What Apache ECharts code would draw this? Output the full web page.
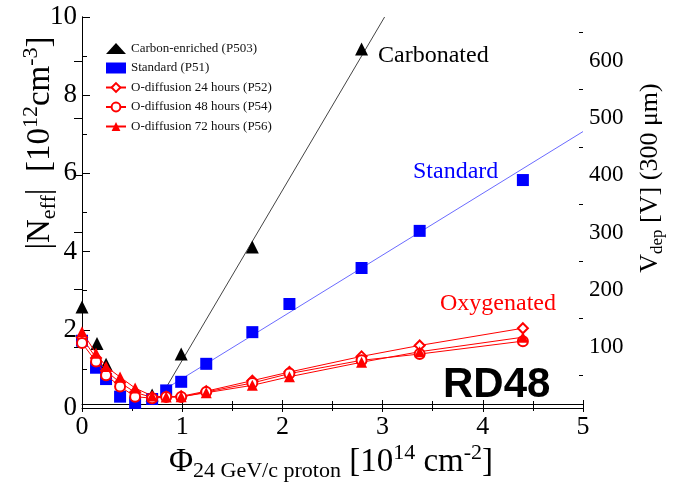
<!DOCTYPE html>
<html>
<head>
<meta charset="utf-8">
<script src="https://cdn.jsdelivr.net/npm/echarts@6/dist/echarts.min.js"></script>
<style>
    html, body { margin: 0; padding: 0; background: #fff; }
    #chart { width: 674px; height: 484px; }
</style>
</head>
<body>
<div id="chart"></div>
<script>
// fluence [1e14 cm^-2] and |Neff| [1e12 cm^-3]
const fluenceCarbon = [0, 0.15, 0.24, 0.70, 0.99, 1.70, 2.79]
const neffCarbon = [2.58, 1.65, 1.12, 0.33, 1.38, 4.12, 9.18]

const fluence = [0, 0.14, 0.24, 0.38, 0.53, 0.70, 0.84, 0.99, 1.24, 1.70, 2.07, 2.79, 3.37, 4.40]
const neffStandard = [1.72, 1.03, 0.74, 0.29, 0.13, 0.23, 0.45, 0.67, 1.13, 1.94, 2.66, 3.58, 4.53, 5.83]
const neffP52 = [1.80, 1.28, 0.95, 0.65, 0.40, 0.27, 0.29, 0.30, 0.43, 0.70, 0.92, 1.32, 1.60, 2.04]
const neffP54 = [1.66, 1.19, 0.84, 0.55, 0.29, 0.25, 0.28, 0.28, 0.41, 0.64, 0.88, 1.22, 1.38, 1.71]
const neffP56 = [1.95, 1.40, 1.06, 0.79, 0.51, 0.31, 0.28, 0.29, 0.39, 0.58, 0.80, 1.17, 1.44, 1.81]

// straight-line fits drawn on the plot (end points)
const fitCarbon = [[0.80, 0.35], [3.02, 10]]
const fitStandard = [[0.84, 0.50], [5, 7.07]]

const vdepLabels = [100, 200, 300, 400, 500, 600]
const vdepMinor = [50, 150, 250, 350, 450, 550, 650]

const seriesNames = [
    'Carbon-enriched (P503)',
    'Standard (P51)',
    'O-diffusion 24 hours (P52)',
    'O-diffusion 48 hours (P54)',
    'O-diffusion 72 hours (P56)'
]

const serif = 'Liberation Serif'
const zip = (xs, ys) => xs.map((x, i) => [x, ys[i]])

const chart = echarts.init(document.getElementById('chart'))

function oxySeries(name, values, symbol, size) {
    return {
        name,
        type: 'line',
        data: zip(fluence, values),
        symbol,
        symbolSize: size,
        color: '#ff0000',
        lineStyle: { width: 1, color: '#ff0000' },
        itemStyle: { color: '#ff0000', borderWidth: 1, opacity: 1 },
        z: 4
    }
}

const titleRich = {
    m: { fontFamily: serif, fontSize: 33, lineHeight: 40, color: '#000' },
    sub: { fontFamily: serif, fontSize: 22, lineHeight: 28, verticalAlign: 'bottom', color: '#000' },
    sup: { fontFamily: serif, fontSize: 22, lineHeight: 24, verticalAlign: 'top', color: '#000' }
}

const rightRich = {
    m: { fontFamily: serif, fontSize: 26, lineHeight: 32, color: '#000' },
    sub: { fontFamily: serif, fontSize: 17, lineHeight: 22, verticalAlign: 'bottom', color: '#000' }
}

chart.setOption({
    animation: false,
    backgroundColor: '#fff',
    grid: { left: 82, right: 91, top: 17, bottom: 76 },
    legend: {
        data: seriesNames,
        orient: 'vertical',
        left: 100,
        top: 37,
        itemWidth: 20,
        itemHeight: 11,
        itemGap: 6.5,
        textStyle: { fontFamily: serif, fontSize: 13, color: '#111' }
    },
    xAxis: [
        {
            type: 'value', min: 0, max: 5, interval: 1, position: 'bottom',
            axisLine: { lineStyle: { color: '#000', width: 1 } },
            axisTick: { inside: true, length: 8, lineStyle: { color: '#000' } },
            minorTick: { show: true, splitNumber: 2, length: 7, lineStyle: { color: '#000' } },
            axisLabel: { fontFamily: serif, fontSize: 26, color: '#000', margin: 6 },
            splitLine: { show: false }
        },
        {
            type: 'value', min: 0, max: 5, interval: 1, position: 'top',
            axisLine: { lineStyle: { color: '#000', width: 1 } },
            axisTick: { inside: true, length: 8, lineStyle: { color: '#000' } },
            minorTick: { show: true, splitNumber: 2, length: 7, lineStyle: { color: '#000' } },
            axisLabel: { show: false },
            splitLine: { show: false }
        }
    ],
    yAxis: [
        {
            type: 'value', min: 0, max: 10, interval: 2, position: 'left',
            axisLine: { show: true, lineStyle: { color: '#000', width: 1 } },
            axisTick: { show: true, inside: true, length: 8, lineStyle: { color: '#000' } },
            minorTick: { show: true, splitNumber: 2, length: 5, lineStyle: { color: '#000' } },
            axisLabel: { fontFamily: serif, fontSize: 27, color: '#000', margin: 5 },
            splitLine: { show: false }
        },
        {
            type: 'value', min: -7, max: 677, position: 'right',
            axisLine: { show: true, lineStyle: { color: '#000', width: 1 } },
            axisTick: { show: true, inside: true, length: 8, customValues: vdepLabels, lineStyle: { color: '#000' } },
            axisLabel: { fontFamily: serif, fontSize: 23, color: '#000', margin: 6, customValues: vdepLabels },
            splitLine: { show: false }
        },
        {
            type: 'value', min: -7, max: 677, position: 'right',
            axisLine: { show: false },
            axisTick: { show: true, inside: true, length: 4, customValues: vdepMinor, lineStyle: { color: '#000' } },
            axisLabel: { show: false },
            splitLine: { show: false }
        }
    ],
    series: [
        {
            name: 'fit-carbon', type: 'line', data: fitCarbon, symbol: 'none',
            lineStyle: { width: 1, color: '#444' }, z: 1, silent: true
        },
        {
            name: 'fit-standard', type: 'line', data: fitStandard, symbol: 'none',
            lineStyle: { width: 1, color: '#6b6bff' }, z: 1, silent: true
        },
        {
            name: seriesNames[0], type: 'scatter', data: zip(fluenceCarbon, neffCarbon),
            symbol: 'triangle', symbolSize: 13, itemStyle: { color: '#000', opacity: 1 }, z: 3
        },
        {
            name: seriesNames[1], type: 'scatter', data: zip(fluence, neffStandard),
            symbol: 'rect', symbolSize: 12, itemStyle: { color: '#0000ff', opacity: 1 }, z: 3
        },
        oxySeries(seriesNames[2], neffP52, 'emptyDiamond', 10),
        oxySeries(seriesNames[3], neffP54, 'emptyCircle', 10),
        oxySeries(seriesNames[4], neffP56, 'triangle', 11)
    ],
    graphic: [
        {
            type: 'text', x: 331, y: 462,
            style: {
                text: '{m|Φ}{sub|24 GeV/c proton}{m| [10}{sup|14}{m| cm}{sup|-2}{m|]}',
                rich: titleRich, align: 'center', verticalAlign: 'middle'
            }
        },
        {
            type: 'text', x: 40, y: 143, rotation: Math.PI / 2,
            style: {
                text: '{m||N}{sub|eff}{m||  [10}{sup|12}{m|cm}{sup|-3}{m|]}',
                rich: titleRich, align: 'center', verticalAlign: 'middle'
            }
        },
        {
            type: 'text', x: 650, y: 178, rotation: Math.PI / 2,
            style: {
                text: '{m|V}{sub|dep}{m| [V] (300 μm)}',
                rich: rightRich, align: 'center', verticalAlign: 'middle'
            }
        },
        {
            type: 'text', x: 378, y: 56,
            style: { text: 'Carbonated', font: '24px "Liberation Serif"', fill: '#000', verticalAlign: 'middle' }
        },
        {
            type: 'text', x: 413, y: 172,
            style: { text: 'Standard', font: '24px "Liberation Serif"', fill: '#0000ff', verticalAlign: 'middle' }
        },
        {
            type: 'text', x: 440, y: 304,
            style: { text: 'Oxygenated', font: '24px "Liberation Serif"', fill: '#ff0000', verticalAlign: 'middle' }
        },
        {
            type: 'text', x: 443, y: 385,
            style: { text: 'RD48', font: 'bold 42px "Liberation Sans"', fill: '#000', verticalAlign: 'middle' }
        }
    ]
})
</script>
</body>
</html>
